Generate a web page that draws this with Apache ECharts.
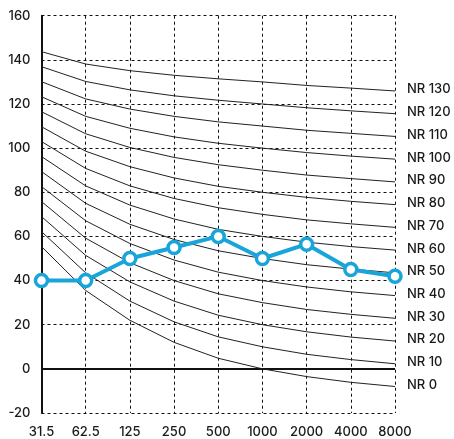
<!DOCTYPE html>
<html>
<head>
<meta charset="utf-8">
<script src="https://cdn.jsdelivr.net/npm/echarts@6/dist/echarts.min.js"></script>
<style>html,body{margin:0;padding:0;background:#fff}#c{width:454px;height:439px}</style>
</head>
<body>
<div id="c"></div>
<script>
var categories = ['31.5', '62.5', '125', '250', '500', '1000', '2000', '4000', '8000'];
var yTicks = [-20, 0, 20, 40, 60, 80, 100, 120, 140, 160];
var measured = [40, 40, 50, 55, 60, 50, 56.5, 45, 42];
var nrLevels = [0, 10, 20, 30, 40, 50, 60, 70, 80, 90, 100, 110, 120, 130];
var nr0   = [55.4, 35.5, 22.0, 12.0, 4.8, 0, -3.5, -6.1, -8.0];
var nr10  = [62.2, 43.5, 30.7, 21.3, 14.5, 10, 6.6, 4.2, 2.3];
var nr20  = [69.0, 51.4, 39.4, 30.7, 24.3, 20, 16.8, 14.4, 12.6];
var nr30  = [75.8, 59.2, 48.1, 40.0, 34.0, 30, 26.9, 24.7, 22.9];
var nr40  = [82.6, 67.1, 56.8, 49.3, 43.8, 40, 37.1, 34.9, 33.2];
var nr50  = [89.4, 75.0, 65.5, 58.6, 53.5, 50, 47.2, 45.2, 43.5];
var nr60  = [96.2, 82.9, 74.2, 67.9, 63.2, 60, 57.4, 55.4, 53.8];
var nr70  = [103.0, 90.8, 82.9, 77.2, 73.0, 70, 67.5, 65.7, 64.1];
var nr80  = [109.7, 98.6, 91.6, 86.5, 82.7, 80, 77.7, 75.9, 74.4];
var nr90  = [116.5, 106.5, 100.3, 95.8, 92.5, 90, 87.8, 86.2, 84.7];
var nr100 = [123.3, 114.4, 109.0, 105.1, 102.2, 100, 98.0, 96.4, 95.0];
var nr110 = [130.1, 122.3, 117.7, 114.4, 111.9, 110, 108.1, 106.7, 105.3];
var nr120 = [136.9, 130.2, 126.4, 123.7, 121.7, 120, 118.3, 116.9, 115.6];
var nr130 = [143.7, 138.1, 135.1, 133.0, 131.4, 130, 128.4, 127.2, 125.9];
var nrCurves = [nr0, nr10, nr20, nr30, nr40, nr50, nr60, nr70, nr80, nr90, nr100, nr110, nr120, nr130];

var FONT = 'Inter';
var TXT = '#1a1a1a';
var series = nrCurves.map(function (d, i) {
  return {
    type: 'line', data: d, symbol: 'none', silent: true, z: 2,
    lineStyle: { color: '#222', width: 1 },
    endLabel: { show: true, formatter: 'NR ' + nrLevels[i], distance: 12, offset: [0, -1.5], color: TXT, fontSize: 13, fontWeight: 500, fontFamily: FONT }
  };
});
series.push({
  type: 'line', data: measured, z: 5,
  symbol: 'circle', symbolSize: 12,
  lineStyle: { color: '#1aa5da', width: 4 },
  itemStyle: { color: '#fff', borderColor: '#1aa5da', borderWidth: 3.5 },
  markLine: {
    silent: true, symbol: 'none', label: { show: false },
    lineStyle: { color: '#111', width: 2, type: 'solid' },
    data: [{ yAxis: 0 }], z: 1
  }
});

var chart = echarts.init(document.getElementById('c'), null, { renderer: 'canvas' });
chart.setOption({
  animation: false,
  grid: { left: 41.5, right: 59, top: 15.7, bottom: 26 },
  xAxis: {
    type: 'category', data: categories, boundaryGap: false,
    axisLine: { show: false, onZero: false },
    axisTick: { show: false },
    axisLabel: { color: TXT, fontSize: 13, fontWeight: 500, fontFamily: FONT, margin: 13, interval: 0 },
    splitLine: { show: true, lineStyle: { color: '#111', width: 1, type: [3, 3] } }
  },
  yAxis: {
    type: 'value', min: yTicks[0], max: yTicks[yTicks.length - 1], interval: 20,
    axisLine: { show: true, lineStyle: { color: '#111', width: 2 } },
    axisTick: { show: false },
    axisLabel: { color: TXT, fontSize: 13, fontWeight: 500, fontFamily: FONT, margin: 11 },
    splitLine: { show: true, lineStyle: { color: '#111', width: 1, type: [3, 3] } }
  },
  series: series
});
</script>
</body>
</html>
